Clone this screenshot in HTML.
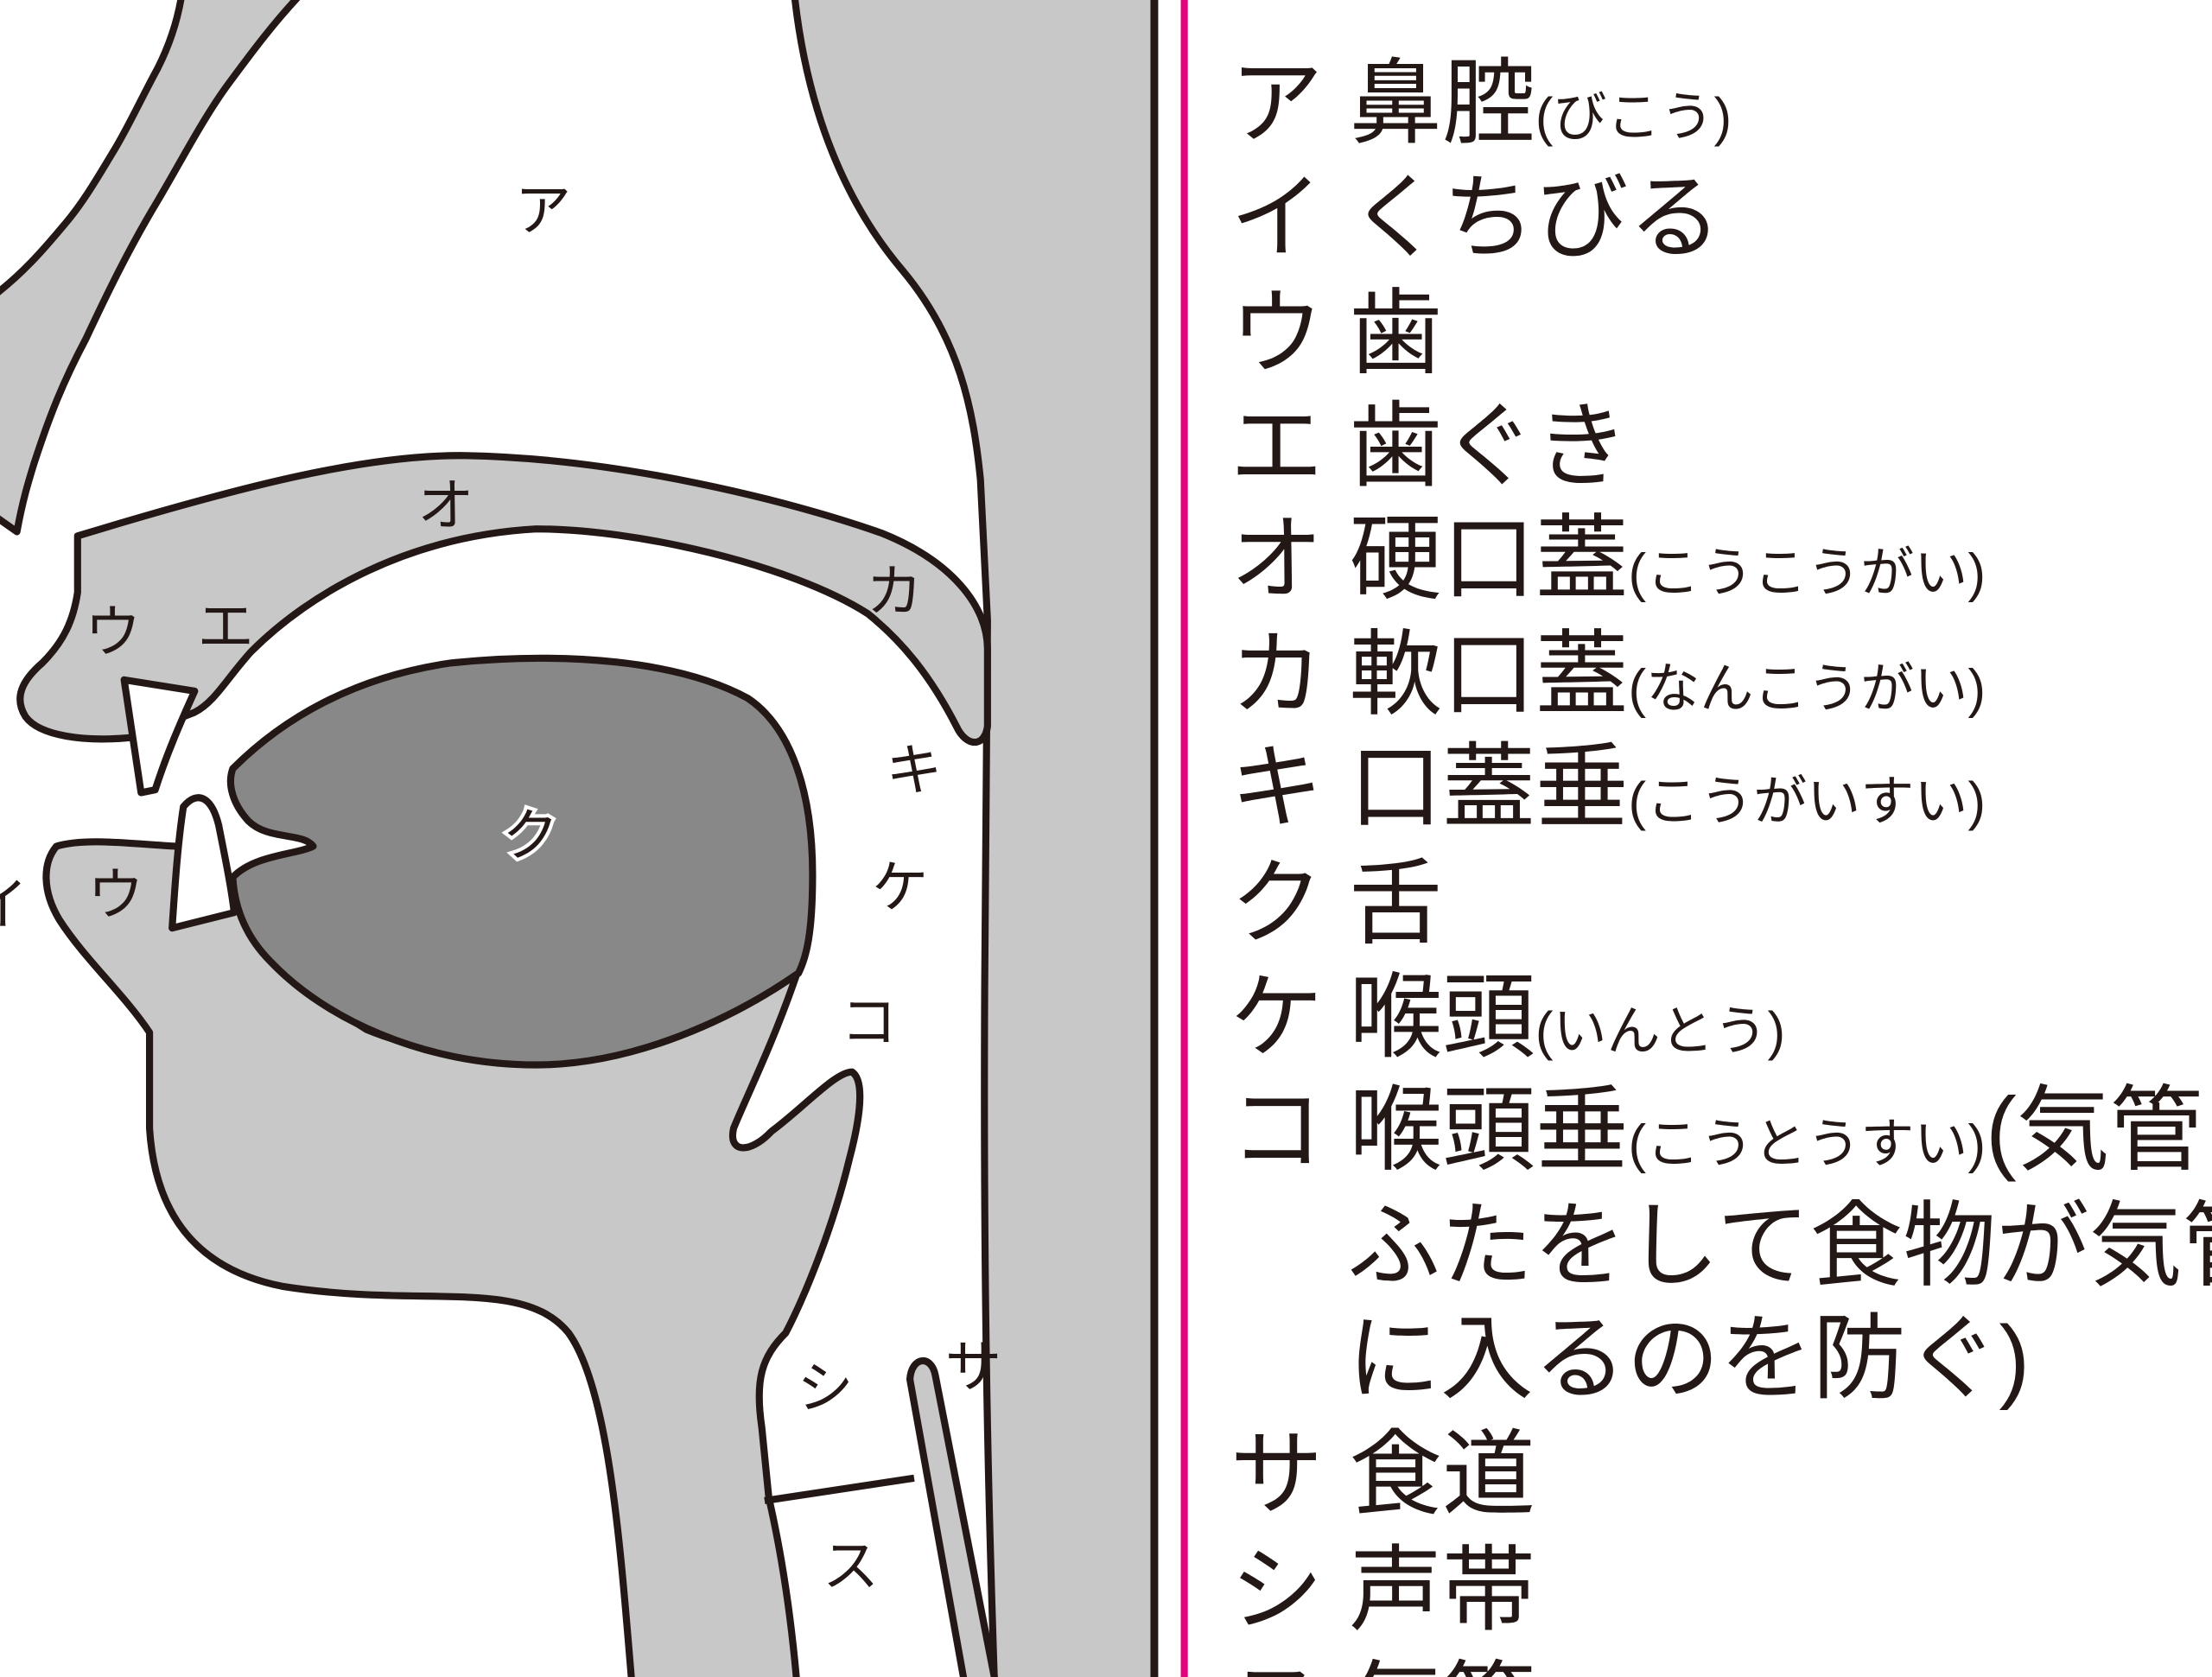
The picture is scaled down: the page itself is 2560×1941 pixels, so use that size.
<!DOCTYPE html>
<html><head><meta charset="utf-8"><style>
html,body{margin:0;padding:0;background:#fff;overflow:hidden}
svg{display:block}
text{font-family:"Liberation Sans","Noto Sans CJK JP",sans-serif;fill:#231815}
</style></head><body>
<svg width="2560" height="1941" viewBox="0 0 1568 1189" preserveAspectRatio="none" xmlns="http://www.w3.org/2000/svg">
<rect width="1568" height="1189" fill="#fff"/>
<g stroke="#231815" stroke-width="5" stroke-linejoin="round">
<!-- nasal bone -->
<path d="M129,-5 C126,15 120,32 112,48 C100,70 90,92 80,108 C68,128 58,145 45,160 C30,178 15,195 -5,210 L-5,365 L12,377 C16,355 20,342 24,329 C35,295 45,270 61,240 C75,210 92,175 112,142 C128,115 145,82 163,58 C180,35 195,15 214,-5 Z" fill="#c8c8c8"/>
<!-- back wall / spine -->
<path d="M563,-5 C572,80 600,145 640,192 C680,240 690,290 695,340 L700,440 L698,700 C697,900 700,1050 705,1195 L818,1195 L818,-5 Z" fill="#c8c8c8"/>
<!-- upper palate + upper jaw -->
<path d="M55,380 C170,345 260,322 330,323 C440,325 560,355 625,378 C675,398 700,430 700,460 L700,515 C698,530 685,530 678,515 C660,480 640,455 615,435 C560,400 450,375 380,375 C290,380 220,420 178,462 C160,482 152,498 138,505 L92,523 C60,526 28,522 18,508 C10,495 15,483 30,470 C45,455 52,440 55,420 Z" fill="#c8c8c8"/>
<!-- upper tooth -->
<path d="M88,482 L138,490 C128,512 118,535 110,560 L100,562 C96,535 92,508 88,482 Z" fill="#fff"/>
<!-- lower jaw / throat -->
<path d="M40,600 C60,594 90,598 125,600 L165,625 C180,660 210,700 260,730 C320,755 420,760 480,735 C520,718 545,705 565,690 C548,740 528,780 520,800 C516,818 532,818 547,802 C570,785 592,760 604,760 C613,766 610,792 602,822 C590,872 570,920 557,945 C540,962 535,978 540,1012 L545,1062 C556,1110 562,1160 565,1195 L448,1195 C440,1100 432,985 403,945 C370,905 300,928 200,912 C140,900 110,862 106,800 L106,732 C88,705 60,680 42,652 C30,632 30,612 40,600 Z" fill="#c8c8c8"/>
<!-- lower tooth -->
<path d="M130,572 C140,560 150,565 155,585 C160,610 164,630 166,647 L122,658 C124,628 126,598 130,572 Z" fill="#fff"/>
<!-- tongue -->
<path d="M165,545 C200,510 250,480 320,470 C400,462 480,468 530,495 C560,515 576,560 576,620 C576,660 572,678 566,690 C520,722 450,755 380,755 C300,755 230,722 192,682 C172,662 166,640 165,622 C180,606 210,606 222,600 C215,590 190,596 176,582 C165,570 161,556 165,545 Z" fill="#888"/>
<!-- vocal cord line -->
<path d="M542,1064 L648,1048" fill="none"/>
<!-- esophagus strip -->
<path d="M645,978 C646,962 660,960 663,975 L706,1195 L684,1195 Z" fill="#c8c8c8"/>
</g>
<!-- divider lines -->
<rect x="816" y="0" width="5" height="1189" fill="#231815"/>
<rect x="837" y="0" width="5" height="1189" fill="#e4007f"/>
<!-- diagram labels -->
<g font-size="40" text-anchor="middle">
<text x="385" y="163">ア</text>
<text x="316" y="372">オ</text>
<text x="634" y="433">カ</text>
<text x="80" y="462">ウ</text>
<text x="160" y="458">エ</text>
<text x="648" y="560">キ</text>
<text x="376" y="606" stroke="#fff" stroke-width="5" paint-order="stroke">ク</text>
<text x="638" y="643">ケ</text>
<text x="616" y="738">コ</text>
<text x="585" y="998">シ</text>
<text x="690" y="983">サ</text>
<text x="603" y="1124">ス</text>
<text x="0" y="655">イ</text>
<text x="82" y="648">ウ</text>
</g>
<!-- legend -->
<g font-size="66">
<text x="872" y="96">ア <tspan>鼻腔</tspan><tspan font-size="38">(びこう)</tspan></text>
<text x="872" y="177">イ くちびる</text>
<text x="872" y="259">ウ 歯</text>
<text x="872" y="339">エ 歯ぐき</text>
<text x="872" y="419">オ 硬口蓋<tspan font-size="38">(こうこうがい)</tspan></text>
<text x="872" y="501">カ 軟口蓋<tspan font-size="38">(なんこうがい)</tspan></text>
<text x="872" y="581">キ 口蓋垂<tspan font-size="38">(こうがいすい)</tspan></text>
<text x="872" y="663">ク 舌</text>
<text x="872" y="744">ケ 喉頭<tspan font-size="38">(いんとう)</tspan></text>
<text x="872" y="824">コ 喉頭垂<tspan font-size="38">(こうとうすい)</tspan>(気管に</text>
<text x="955" y="906">ふたをして食物が気管</text>
<text x="955" y="986">に入るのを防ぐ)</text>
<text x="872" y="1068">サ 食道</text>
<text x="872" y="1150">シ 声帯</text>
<text x="872" y="1232">ス 気管</text>
</g>
</svg>
</body></html>
